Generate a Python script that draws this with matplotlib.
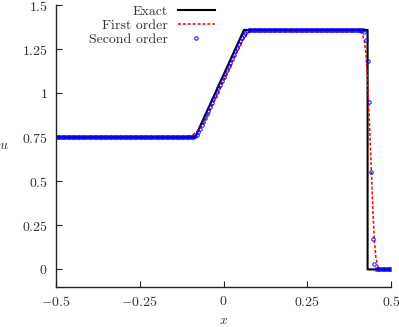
import numpy as np
import matplotlib
matplotlib.use("Agg")
import matplotlib.pyplot as plt

# exact solution (break points of the polyline)
x_exact = [-0.5, -0.085, 0.061, 0.43, 0.43, 0.5]
u_exact = [0.75, 0.75, 1.36, 1.36, 0.0, 0.0]

# first order scheme
x_first = [-0.5, -0.13, -0.12, -0.11, -0.10, -0.09, -0.08, -0.07, -0.06, -0.05,
           -0.04, -0.03, -0.02, -0.01, 0.0, 0.01, 0.02, 0.03, 0.04, 0.05,
           0.06, 0.07, 0.08, 0.09, 0.10, 0.11, 0.39, 0.40, 0.405, 0.41,
           0.415, 0.42, 0.425, 0.43, 0.435, 0.44, 0.445, 0.45, 0.455, 0.46,
           0.465, 0.47, 0.5]
u_first = [0.75, 0.75, 0.751, 0.753, 0.758, 0.767, 0.781, 0.803, 0.833, 0.868,
           0.907, 0.948, 0.989, 1.030, 1.071, 1.113, 1.154, 1.195, 1.236, 1.276,
           1.312, 1.337, 1.351, 1.357, 1.359, 1.36, 1.36, 1.358, 1.354, 1.346,
           1.332, 1.300, 1.225, 1.08, 0.86, 0.62, 0.38, 0.17, 0.065, 0.02,
           0.004, 0.0, 0.0]

# second order scheme on the grid nodes (dx = 0.005)
x_second = np.linspace(-0.5, 0.5, 201)
ramp_second = [0.750, 0.751, 0.753, 0.757, 0.764, 0.780, 0.798, 0.818, 0.839, 0.860,
               0.881, 0.902, 0.923, 0.944, 0.965, 0.986, 1.007, 1.028, 1.049, 1.070,
               1.091, 1.112, 1.133, 1.154, 1.175, 1.196, 1.217, 1.238, 1.259, 1.279,
               1.298, 1.316, 1.332, 1.345, 1.353, 1.357, 1.359, 1.360]
shock_second = [1.350, 1.303, 1.182, 0.949, 0.555, 0.172, 0.030]
u_second = [0.75] * 80 + ramp_second + [1.36] * 66 + shock_second + [0.0] * 10

x_ticks = [-0.5, -0.25, 0, 0.25, 0.5]
x_ticklabels = ['$-0.5$', '$-0.25$', '$0$', '$0.25$', '$0.5$']
y_ticks = [0, 0.25, 0.5, 0.75, 1, 1.25, 1.5]
y_ticklabels = ['$0$', '$0.25$', '$0.5$', '$0.75$', '$1$', '$1.25$', '$1.5$']

plt.rcParams['font.family'] = 'serif'
plt.rcParams['font.serif'] = ['cmr10']
plt.rcParams['mathtext.fontset'] = 'cm'
plt.rcParams['axes.formatter.use_mathtext'] = True
plt.rcParams['font.size'] = 10

fig = plt.figure(figsize=(3.99, 3.27), dpi=100)
ax = fig.add_axes([0.1404, 0.1223, 0.8396, 0.8615])

ax.plot(x_exact, u_exact, color='black', lw=1.5, label='Exact')
ax.plot(x_first, u_first, color='red', lw=1.1, dashes=(2, 1.2), label='First order')
ax.plot(x_second, u_second, ls='none', marker='o', ms=2.5, mfc='none',
        mec='blue', mew=0.8, alpha=0.85, label='Second order')

ax.set_xlim(-0.5, 0.5)
ax.set_ylim(-0.1, 1.5)
ax.set_xticks(x_ticks)
ax.set_xticklabels(x_ticklabels)
ax.set_yticks(y_ticks)
ax.set_yticklabels(y_ticklabels)

for s in ['top', 'right']:
    ax.spines[s].set_visible(False)
for s in ['left', 'bottom']:
    ax.spines[s].set_color('#222222')
    ax.spines[s].set_linewidth(1.0)
ax.tick_params(direction='in', length=4, width=0.8, color='#222222',
               labelcolor='#333333', pad=6, labelsize=10)

ax.set_xlabel('$x$', color='#333333')
ax.set_ylabel('$u$', color='#333333', rotation=0, ha='center', va='center')
ax.xaxis.set_label_coords(0.5, -0.1)
ax.yaxis.set_label_coords(-0.155, 0.5)

leg = ax.legend(loc='upper right', bbox_to_anchor=(0.475, 1.0), frameon=False,
                markerfirst=False, handlelength=2.7, handletextpad=0.7,
                labelspacing=0.1, borderpad=0, borderaxespad=0, numpoints=1)
for t in leg.get_texts():
    t.set_color('#333333')

fig.savefig('out.png', dpi=100)
